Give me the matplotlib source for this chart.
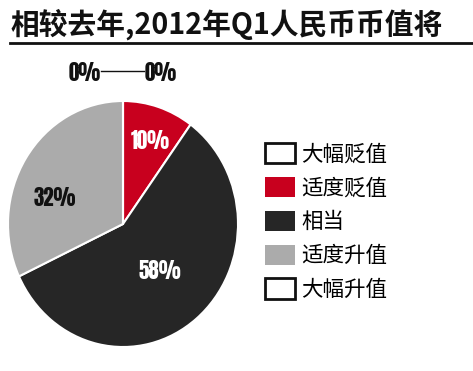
import matplotlib
matplotlib.use("Agg")
import matplotlib.pyplot as plt
from matplotlib.patches import Patch
from matplotlib.lines import Line2D

title = "相较去年,2012年Q1人民币币值将"
categories = ["大幅贬值", "适度贬值", "相当", "适度升值", "大幅升值"]
values = [0, 10, 58, 32, 0]
colors = ["#FFFFFF", "#C8001E", "#262626", "#ABABAB", "#FFFFFF"]
label_colors = ["#111111", "#FFFFFF", "#FFFFFF", "#111111", "#111111"]

W, H = 473, 371
fig = plt.figure(figsize=(W / 100, H / 100), dpi=100)
fig.patch.set_facecolor("white")

cjk = ["Noto Sans CJK SC", "DejaVu Sans"]
num_font = ["Anton", "Oswald", "Fjalla One", "DejaVu Sans"]

# title + rule
fig.text(10 / W, 1 - 24 / H, title, fontsize=20.7, fontweight="bold", family=cjk,
         va="center", ha="left", color="#111111")
fig.add_artist(Line2D([10 / W, 1.0], [1 - 43 / H, 1 - 43 / H], color="#111111", lw=2))

# pie axes (slightly elliptical like the reference)
ax = fig.add_axes([8 / W, 24 / H, 230 / W, 246 / H])
wedges, _ = ax.pie(values, colors=colors, startangle=90, counterclock=False,
                   wedgeprops=dict(edgecolor="white", linewidth=1.5))
ax.set_aspect("auto")
ax.set_xlim(-1, 1)
ax.set_ylim(-1, 1)
ax.axis("off")

# label positions (layout, in normalized pie coords)
label_pos = [(-0.33, 1.23), (0.235, 0.675), (0.32, -0.38), (-0.59, 0.21), (0.33, 1.23)]
for v, (x, y), c in zip(values, label_pos, label_colors):
    ax.text(x, y, f"{v}%", ha="center", va="center", fontsize=15,
            family=num_font, color=c, clip_on=False)
ax.add_line(Line2D([-0.19, 0.18], [1.245, 1.245], color="#111111", lw=1, clip_on=False))

# legend
handles = []
for col, v in zip(colors, values):
    if v == 0:
        handles.append(Patch(facecolor="white", edgecolor="#111111", linewidth=2))
    else:
        handles.append(Patch(facecolor=col, edgecolor=col, linewidth=0))
leg = fig.legend(handles, categories, loc="upper left",
                 bbox_to_anchor=(265 / W, 1 - 143 / H), frameon=False,
                 prop={"family": cjk, "size": 15.5},
                 handlelength=1.4, handleheight=1.07, handletextpad=0.3,
                 labelspacing=0.53, borderpad=0, borderaxespad=0)

fig.savefig("out.png", dpi=100, facecolor="white")
